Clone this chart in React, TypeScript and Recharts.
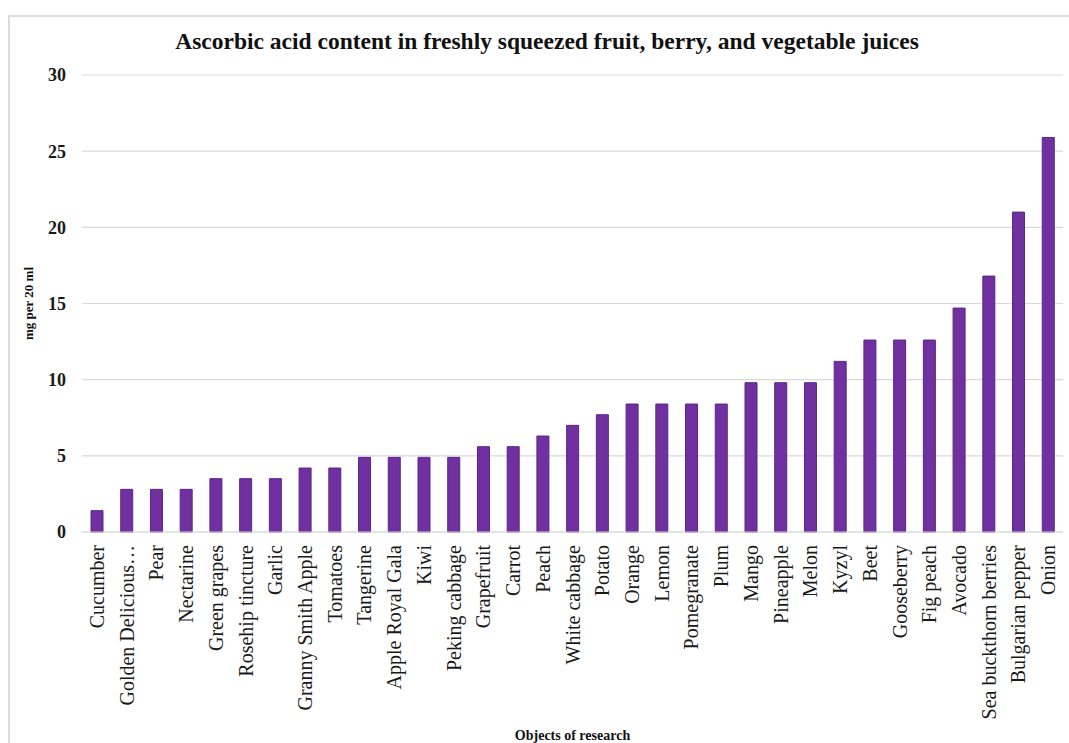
import { BarChart, Bar, XAxis, YAxis, CartesianGrid, Label } from 'recharts'

const objects = [
  'Cucumber',
  'Golden Delicious…',
  'Pear',
  'Nectarine',
  'Green grapes',
  'Rosehip tincture',
  'Garlic',
  'Granny Smith Apple',
  'Tomatoes',
  'Tangerine',
  'Apple Royal Gala',
  'Kiwi',
  'Peking cabbage',
  'Grapefruit',
  'Carrot',
  'Peach',
  'White cabbage',
  'Potato',
  'Orange',
  'Lemon',
  'Pomegranate',
  'Plum',
  'Mango',
  'Pineapple',
  'Melon',
  'Kyzyl',
  'Beet',
  'Gooseberry',
  'Fig peach',
  'Avocado',
  'Sea buckthorn berries',
  'Bulgarian pepper',
  'Onion',
]

const mgPer20ml = [
  1.4, 2.8, 2.8, 2.8, 3.5, 3.5, 3.5, 4.2, 4.2, 4.9, 4.9, 4.9, 4.9, 5.6, 5.6, 6.3, 7.0,
  7.7, 8.4, 8.4, 8.4, 8.4, 9.8, 9.8, 9.8, 11.2, 12.6, 12.6, 12.6, 14.7, 16.8, 21.0, 25.9,
]

const yTicks = [0, 5, 10, 15, 20, 25, 30]

const FONT = '"Liberation Serif", "Times New Roman", serif'

const chartData = objects.map((name, i) => ({ name, value: mgPer20ml[i] }))

// category names run bottom-to-top under each bar, right edge near the axis
function RotatedTick({ x, y, payload }: { x?: number; y?: number; payload?: { value: string } }) {
  return (
    <text
      x={0}
      y={0}
      transform={`translate(${(x ?? 0) + 7}, ${(y ?? 0) + 5}) rotate(-90)`}
      textAnchor="end"
      fontFamily={FONT}
      fontSize={20}
      fill="#1a1a1a"
    >
      {payload?.value}
    </text>
  )
}

export default function App() {
  return (
    <div style={{ position: 'absolute', left: 0, top: 0, width: 1069, height: 743, background: '#fff', overflow: 'hidden' }}>
      <div
        style={{
          position: 'absolute',
          left: 8,
          top: 15,
          width: 1100,
          height: 800,
          borderTop: '2px solid #dcdcdc',
          borderLeft: '2px solid #dcdcdc',
        }}
      />
      <div
        style={{
          position: 'absolute',
          left: 0,
          top: 28,
          width: 1094,
          textAlign: 'center',
          fontFamily: FONT,
          fontWeight: 'bold',
          fontSize: 23.5,
          color: '#111',
        }}
      >
        Ascorbic acid content in freshly squeezed fruit, berry, and vegetable juices
      </div>
      <div style={{ position: 'absolute', left: 0, top: 0 }}>
        <BarChart
          width={1069}
          height={743}
          data={chartData}
          margin={{ top: 75, right: 6, left: 12, bottom: 0 }}
          barSize={12}
        >
          <CartesianGrid horizontal vertical={false} stroke="#d9d9d9" strokeWidth={1.2} />
          <XAxis
            dataKey="name"
            interval={0}
            tick={<RotatedTick />}
            tickLine={false}
            axisLine={{ stroke: '#d9d9d9', strokeWidth: 1.2 }}
            height={211}
          >
            <Label
              value="Objects of research"
              position="insideBottom"
              offset={3}
              style={{ fontFamily: FONT, fontWeight: 'bold', fontSize: 14, fill: '#111' }}
            />
          </XAxis>
          <YAxis
            domain={[0, 30]}
            ticks={yTicks}
            interval={0}
            tickLine={false}
            axisLine={false}
            width={70}
            tickMargin={10}
            tick={{ fontFamily: FONT, fontWeight: 'bold', fontSize: 18, fill: '#1a1a1a' }}
          >
            <Label
              value="mg per 20 ml"
              angle={-90}
              position="insideLeft"
              offset={16}
              style={{ fontFamily: FONT, fontWeight: 'bold', fontSize: 13, fill: '#111', textAnchor: 'middle' }}
            />
          </YAxis>
          <Bar dataKey="value" fill="#7030a0" stroke="#5b2585" strokeWidth={1} isAnimationActive={false} />
        </BarChart>
      </div>
    </div>
  )
}
